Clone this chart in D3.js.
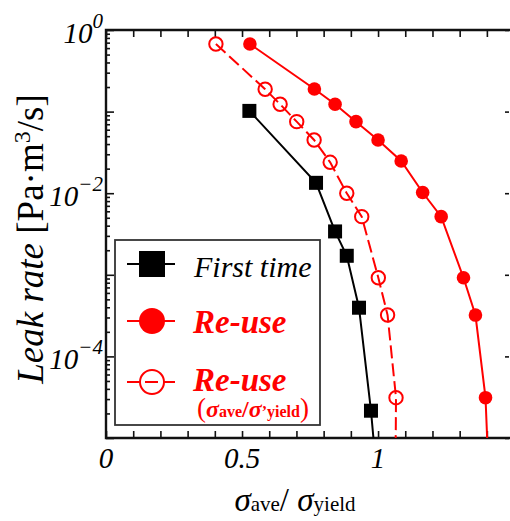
<!DOCTYPE html>
<html><head><meta charset="utf-8">
<script src="https://cdn.jsdelivr.net/npm/d3@7"></script>
<style>body{margin:0;background:#fff}svg{display:block}</style>
</head><body>
<script>
// ---- data ----
const firstX   = [0.527, 0.772, 0.842, 0.885, 0.930, 0.974, 0.983];
const firstY   = [0.102, 0.0134, 0.0034, 0.00171, 0.000395, 0.0000216, 0.00001];
const reuseX   = [0.529, 0.766, 0.842, 0.919, 1.000, 1.085, 1.164, 1.232, 1.314, 1.358, 1.395, 1.401];
const reuseY   = [0.673, 0.189, 0.123, 0.0753, 0.0449, 0.0248, 0.0102, 0.00516, 0.00092, 0.000321, 0.0000312, 0.00001];
const reuse2X  = [0.404, 0.585, 0.640, 0.701, 0.765, 0.824, 0.885, 0.940, 1.001, 1.035, 1.066, 1.065];
const reuse2Y  = [0.673, 0.188, 0.123, 0.0753, 0.0449, 0.0239, 0.00997, 0.00516, 0.00092, 0.000321, 0.0000312, 0.00001];
// last entry of each series is the line's continuation below the axis (no marker)
const xTickLabels = ["0", "0.5", "1"];
const xTickVals = [0, 0.5, 1];
const yLabelExps = ["0", "−2", "−4"];
const yLabelVals = [1, 1e-2, 1e-4];

const W = 510, H = 521;
const L = 106, R = 510, T = 30, B = 438;
const svg = d3.select("body").append("svg").attr("width", W).attr("height", H);
const x = d3.scaleLinear().domain([0, 1.485]).range([L, R]);
const y = d3.scaleLog().domain([1e-5, 1]).range([B, T]);
const serif = "Liberation Serif, Times New Roman, serif";

svg.append("clipPath").attr("id", "clip").append("rect")
  .attr("x", L).attr("y", T).attr("width", R - L).attr("height", B - T);

// ---- axes ----
const majorsY = [1, 1e-1, 1e-2, 1e-3, 1e-4, 1e-5];
const minorsY = [];
for (let e = -5; e < 0; e++) for (let m = 2; m <= 9; m++) minorsY.push(m * Math.pow(10, e));
const ticksX = d3.range(0, 15).map(i => i / 10);

function styleAxis(g) {
  g.selectAll(".domain").remove();
  g.selectAll("line").attr("stroke", "#111").attr("stroke-width", 1.6);
  g.selectAll("text").remove();
}
svg.append("g").attr("transform", `translate(${L},0)`)
  .call(d3.axisLeft(y).tickValues(majorsY).tickSize(-8)).call(styleAxis);
svg.append("g").attr("transform", `translate(${L},0)`)
  .call(d3.axisLeft(y).tickValues(minorsY).tickSize(-4)).call(styleAxis);
svg.append("g").attr("transform", `translate(${R - 1},0)`)
  .call(d3.axisRight(y).tickValues(majorsY).tickSize(-4)).call(styleAxis);
svg.append("g").attr("transform", `translate(0,${B})`)
  .call(d3.axisBottom(x).tickValues(ticksX).tickSize(-7)).call(styleAxis);
svg.append("g").attr("transform", `translate(0,${T})`)
  .call(d3.axisTop(x).tickValues(ticksX).tickSize(-7)).call(styleAxis);

// frame
svg.append("path").attr("d", `M${R + 2},${T}H${L}V${B}H${R + 2}`)
  .attr("fill", "none").attr("stroke", "#111").attr("stroke-width", 2.4);

// tick labels
svg.selectAll(".xl").data(xTickVals).enter().append("text")
  .attr("x", d => x(d)).attr("y", 468).attr("text-anchor", "middle")
  .attr("font-family", serif).attr("font-style", "italic").attr("font-size", 29)
  .text((d, i) => xTickLabels[i]);
yLabelVals.forEach((v, i) => {
  const t = svg.append("text").attr("x", 103).attr("y", y(v) + 13).attr("text-anchor", "end")
    .attr("font-family", serif).attr("font-style", "italic").attr("font-size", 29);
  t.append("tspan").text("10");
  t.append("tspan").attr("dy", -15).attr("font-size", 21).text(yLabelExps[i]);
});

// axis titles
const xt = svg.append("text").attr("x", 295).attr("y", 511).attr("text-anchor", "middle")
  .attr("font-family", serif).attr("font-size", 33);
xt.append("tspan").attr("font-style", "italic").text("σ");
xt.append("tspan").attr("font-size", 21).text("ave");
xt.append("tspan").text("/ ");
xt.append("tspan").attr("font-style", "italic").text("σ");
xt.append("tspan").attr("font-size", 21).text("yield");

const yt = svg.append("text").attr("transform", "translate(43,239) rotate(-90)")
  .attr("text-anchor", "middle").attr("font-family", serif).attr("font-size", 37);
yt.append("tspan").attr("font-style", "italic").text("Leak rate");
yt.append("tspan").text(" [Pa·m");
yt.append("tspan").attr("dy", -13).attr("font-size", 24).text("3");
yt.append("tspan").attr("dy", 13).text("/s]");

// ---- series ----
const plot = svg.append("g").attr("clip-path", "url(#clip)");
const line = d3.line().x(d => x(d[0])).y(d => y(d[1]));
const zip = (a, b) => a.map((v, i) => [v, b[i]]);
const sFirst = zip(firstX, firstY), sReuse = zip(reuseX, reuseY), sReuse2 = zip(reuse2X, reuse2Y);

plot.append("path").datum(sReuse2).attr("d", line).attr("fill", "none")
  .attr("stroke", "#ff0000").attr("stroke-width", 2).attr("stroke-dasharray", "13,5");
plot.append("path").datum(sReuse).attr("d", line).attr("fill", "none")
  .attr("stroke", "#ff0000").attr("stroke-width", 2);
plot.append("path").datum(sFirst).attr("d", line).attr("fill", "none")
  .attr("stroke", "#000").attr("stroke-width", 2);

plot.selectAll(".oc").data(sReuse2.slice(0, -1)).enter().append("circle")
  .attr("cx", d => x(d[0])).attr("cy", d => y(d[1])).attr("r", 6.7)
  .attr("fill", "none").attr("stroke", "#ff0000").attr("stroke-width", 2);
plot.selectAll(".fc").data(sReuse.slice(0, -1)).enter().append("circle")
  .attr("cx", d => x(d[0])).attr("cy", d => y(d[1])).attr("r", 6.8).attr("fill", "#ff0000");
plot.selectAll(".sq").data(sFirst.slice(0, -1)).enter().append("rect")
  .attr("x", d => x(d[0]) - 7).attr("y", d => y(d[1]) - 7).attr("width", 14).attr("height", 14)
  .attr("fill", "#000");

// ---- legend ----
const lg = svg.append("g");
lg.append("rect").attr("x", 115).attr("y", 240).attr("width", 205).attr("height", 185)
  .attr("fill", "#fff").attr("stroke", "#333").attr("stroke-width", 1.8);
const rows = [264, 321, 382];
lg.append("line").attr("x1", 127).attr("x2", 175).attr("y1", rows[0]).attr("y2", rows[0]).attr("stroke", "#000").attr("stroke-width", 2);
lg.append("rect").attr("x", 139).attr("y", rows[0] - 13).attr("width", 26).attr("height", 26).attr("fill", "#000");
lg.append("line").attr("x1", 127).attr("x2", 175).attr("y1", rows[1]).attr("y2", rows[1]).attr("stroke", "#f00").attr("stroke-width", 2);
lg.append("circle").attr("cx", 152).attr("cy", rows[1]).attr("r", 13).attr("fill", "#f00");
lg.append("line").attr("x1", 127).attr("x2", 175).attr("y1", rows[2]).attr("y2", rows[2]).attr("stroke", "#f00").attr("stroke-width", 2).attr("stroke-dasharray", "13,5");
lg.append("circle").attr("cx", 152).attr("cy", rows[2]).attr("r", 12).attr("fill", "none").attr("stroke", "#f00").attr("stroke-width", 2);

lg.append("text").attr("x", 194).attr("y", 277).attr("font-family", serif)
  .attr("font-style", "italic").attr("font-size", 30).attr("fill", "#000").text("First time");
lg.append("text").attr("x", 193).attr("y", 333).attr("font-family", serif)
  .attr("font-style", "italic").attr("font-weight", "bold").attr("font-size", 33).attr("fill", "#f00").text("Re-use");
lg.append("text").attr("x", 193).attr("y", 391).attr("font-family", serif)
  .attr("font-style", "italic").attr("font-weight", "bold").attr("font-size", 33).attr("fill", "#f00").text("Re-use");
const sub = lg.append("text").attr("x", 197).attr("y", 417).attr("font-family", serif)
  .attr("font-weight", "bold").attr("font-size", 24).attr("fill", "#f00");
sub.append("tspan").attr("font-size", 27).attr("font-weight", "normal").text("(");
sub.append("tspan").attr("font-style", "italic").text("σ");
sub.append("tspan").attr("font-size", 16).text("ave");
sub.append("tspan").text("/");
sub.append("tspan").attr("font-style", "italic").text("σ");
sub.append("tspan").attr("font-size", 16).text("’yield");
sub.append("tspan").attr("font-size", 27).attr("font-weight", "normal").text(")");
</script>
</body></html>
